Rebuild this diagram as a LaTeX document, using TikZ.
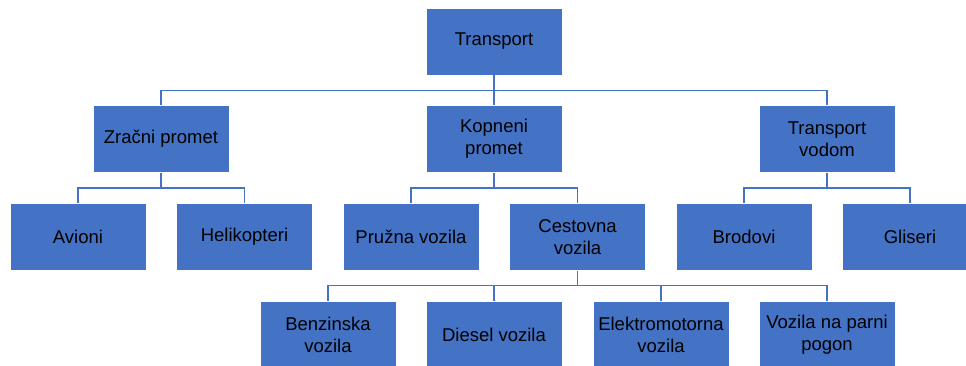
\documentclass[tikz,border=0pt]{standalone}
\usepackage{fontspec}
\setmainfont{Liberation Sans}
\usetikzlibrary{calc}
\definecolor{boxblue}{HTML}{4472C4}
\begin{document}
\begin{tikzpicture}[x=1pt,y=-1pt,
  box/.style={rectangle, fill=boxblue, draw=white, line width=0.6pt,
    minimum width=136pt, minimum height=67pt, align=center, inner sep=2pt,
    font=\fontsize{18.5}{21.8}\selectfont, text=black},
  conn/.style={draw=boxblue, line width=1.3pt}]
\useasboundingbox (0,0) rectangle (966,365);
\clip (0,0) rectangle (966,365);
\node[box] (t) at (494,41.5) {Transport};
\node[box] (z) at (161,139) {Zračni promet};
\node[box] (k) at (494,139) {Kopneni\\promet};
\node[box] (v) at (827,139) {Transport\\vodom};
\node[box] (a) at (78,237) {Avioni};
\node[box] (h) at (244.5,237) {Helikopteri};
\node[box] (p) at (411,237) {Pružna vozila};
\node[box] (c) at (577.5,237) {Cestovna\\vozila};
\node[box] (b) at (744,237) {Brodovi};
\node[box] (g) at (910,237) {Gliseri};
\node[box] (bz) at (328,334.5) {Benzinska\\vozila};
\node[box] (d) at (494,334.5) {Diesel vozila};
\node[box] (e) at (661,334.5) {Elektromotorna\\vozila};
\node[box] (vp) at (827,334.5) {Vozila na parni\\pogon};
% level 1 -> 2
\coordinate (j1) at ($(t.south)!0.5!(k.north)$);
\draw[conn] (t.south) -- (k.north);
\draw[conn] (z.north) |- (j1) -| (v.north);
% level 2 -> 3
\coordinate (j2a) at ($(z.south)!0.5!(z.south |- a.north)$);
\draw[conn] (z.south) -- (j2a);
\draw[conn] (a.north) |- (j2a) -| (h.north);
\coordinate (j2b) at ($(k.south)!0.5!(k.south |- p.north)$);
\draw[conn] (k.south) -- (j2b);
\draw[conn] (p.north) |- (j2b) -| (c.north);
\coordinate (j2c) at ($(v.south)!0.5!(v.south |- b.north)$);
\draw[conn] (v.south) -- (j2c);
\draw[conn] (b.north) |- (j2c) -| (g.north);
% level 3 -> 4
\coordinate (j3) at ($(c.south)!0.5!(c.south |- d.north)$);
\draw[conn] (c.south) -- (j3);
\draw[conn] (bz.north) |- (j3) -| (vp.north);
\draw[conn] (d.north) -- (d.north |- j3);
\draw[conn] (e.north) -- (e.north |- j3);
\end{tikzpicture}
\end{document}
